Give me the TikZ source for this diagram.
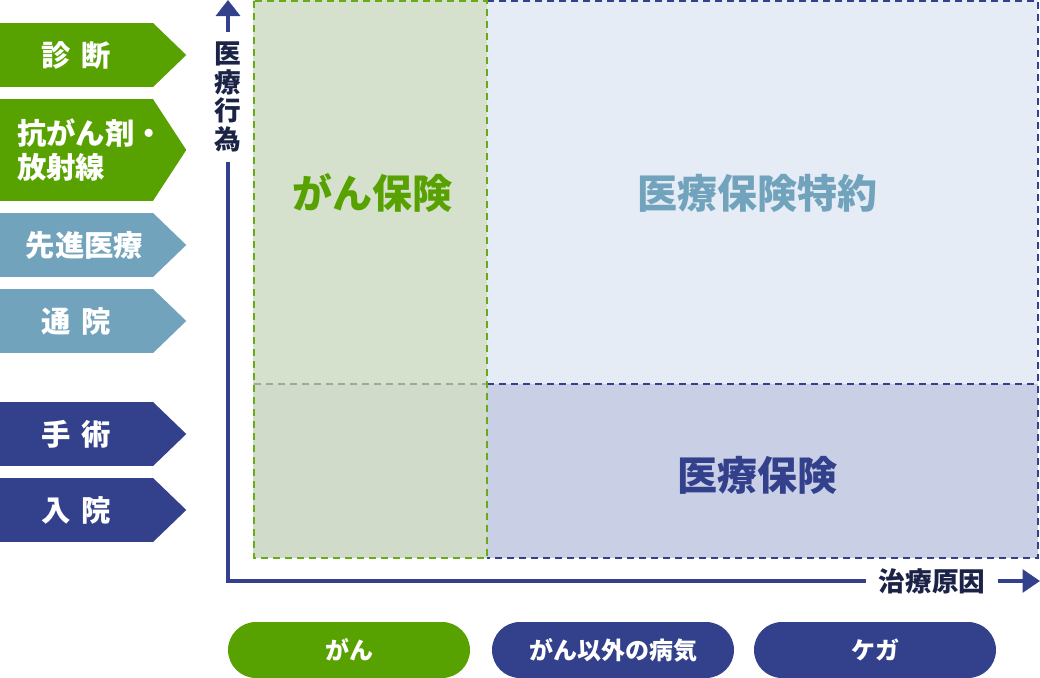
\documentclass[tikz,border=0pt]{standalone}
\usepackage{fontspec}
\setmainfont{Noto Sans CJK JP}
\usepackage{tikz}
\usepackage{xcolor}
\usetikzlibrary{shapes, arrows.meta, calc, positioning}

\definecolor{cgreen}{HTML}{57A200}
\definecolor{cblue}{HTML}{72A3BC}
\definecolor{cnavy}{HTML}{33408C}
\definecolor{cdark}{HTML}{1B2447}
\definecolor{bggreen}{HTML}{D5E1CC}
\definecolor{bggreenlow}{HTML}{D0DCC9}
\definecolor{bgblue}{HTML}{E5ECF5}
\definecolor{bgnavy}{HTML}{C9CFE5}

\newcommand{\gap}{\hspace{8pt}}

\begin{document}
\begin{tikzpicture}[x=0.75pt, y=-0.75pt,
        tagbox/.style={rectangle, inner sep=0pt, minimum width=114.75pt, minimum height=48pt,
            text=white, font=\fontsize{22}{26}\selectfont\bfseries},
        pill/.style={rectangle, rounded corners=21pt, inner sep=0pt, minimum width=181.5pt,
            minimum height=42pt, text=white, font=\fontsize{18}{20}\selectfont\bfseries},
        zone/.style={inner sep=0pt, font=\fontsize{30}{32}\selectfont\bfseries},
        axislabel/.style={text=cdark, inner sep=0pt, font=\fontsize{20}{21.4}\selectfont\bfseries},
        axisline/.style={cnavy, line width=2.6pt},
        dashgreen/.style={cgreen!90!white, line width=1.5pt, dash pattern=on 5pt off 4pt},
        dashnavy/.style={cnavy, line width=1.5pt, dash pattern=on 5pt off 4pt},
        dashgray/.style={black!25!bggreen, line width=1.5pt, dash pattern=on 5pt off 4pt}]%{{{
                \useasboundingbox (0, 0) rectangle (1040, 678);

                % zones
                \fill[bggreen] (253, 0) rectangle (487, 384);
                \fill[bggreenlow] (253, 384) rectangle (487, 558);
                \fill[bgblue] (487, 0) rectangle (1038, 384);
                \fill[bgnavy] (487, 384) rectangle (1038, 558);
                \draw[dashnavy] (487, 1) -- (1038, 1) -- (1038, 558) -- (487, 558);
                \draw[dashnavy] (487, 384) -- (1038, 384);
                \draw[dashgray] (254, 384) -- (486, 384);
                \draw[dashgreen] (254, 1) rectangle (487, 558);

                \node (cancerins) [zone, text=cgreen] at (372, 193) { がん保険 };
                \node (rider) [zone, text=cblue] at (757, 193) { 医療保険特約 };
                \node (medins) [zone, text=cnavy] at (757, 475) { 医療保険 };

                % left tags
                \node (diag) [tagbox, fill=cgreen] at (76.5, 55) { 診\gap 断 };
                \node (chemo) [tagbox, fill=cgreen, minimum height=76.5pt, text width=114.75pt, align=left] at (76.5, 150) { \hspace*{13pt}抗がん剤・\\\hspace*{13pt}放射線 };
                \node (adv) [tagbox, fill=cblue] at (76.5, 245) { \hspace*{12pt}先進医療 };
                \node (outp) [tagbox, fill=cblue] at (76.5, 321) { 通\gap 院 };
                \node (surg) [tagbox, fill=cnavy] at (76.5, 434) { 手\gap 術 };
                \node (inp) [tagbox, fill=cnavy] at (76.5, 510) { 入\gap 院 };

                \foreach \n/\c in {diag/cgreen, chemo/cgreen, adv/cblue, outp/cblue, surg/cnavy, inp/cnavy}
                        \fill[\c] ($(\n.north east) + (-0.5, 0)$) -- ($(\n.east) + (33, 0)$) -- ($(\n.south east) + (-0.5, 0)$) -- cycle;

                % axes
                \node (ylabel) [axislabel, align=center, minimum height=97.5pt] at (228, 97) { 医\\療\\行\\為 };
                \node (xlabel) [axislabel, minimum width=99pt] at (932, 581) { 治療原因 };
                \coordinate (ytip) at (228, 0);
                \coordinate (xtip) at (1040, 581);

                \draw[axisline] (ylabel) |- (xlabel);
                \draw[axisline, -{Triangle[width=18pt, length=12pt]}] (ylabel) -- (ytip);
                \draw[axisline, -{Triangle[width=17pt, length=13pt]}] (xlabel) -- (xtip);

                % causes
                \node (pcancer) [pill, fill=cgreen] at (349, 650) { がん };
                \node (pill) [pill, fill=cnavy] at (613, 650) { がん以外の病気 };
                \node (pinjury) [pill, fill=cnavy] at (875, 650) { ケガ };
            \end{tikzpicture}
\end{document}
